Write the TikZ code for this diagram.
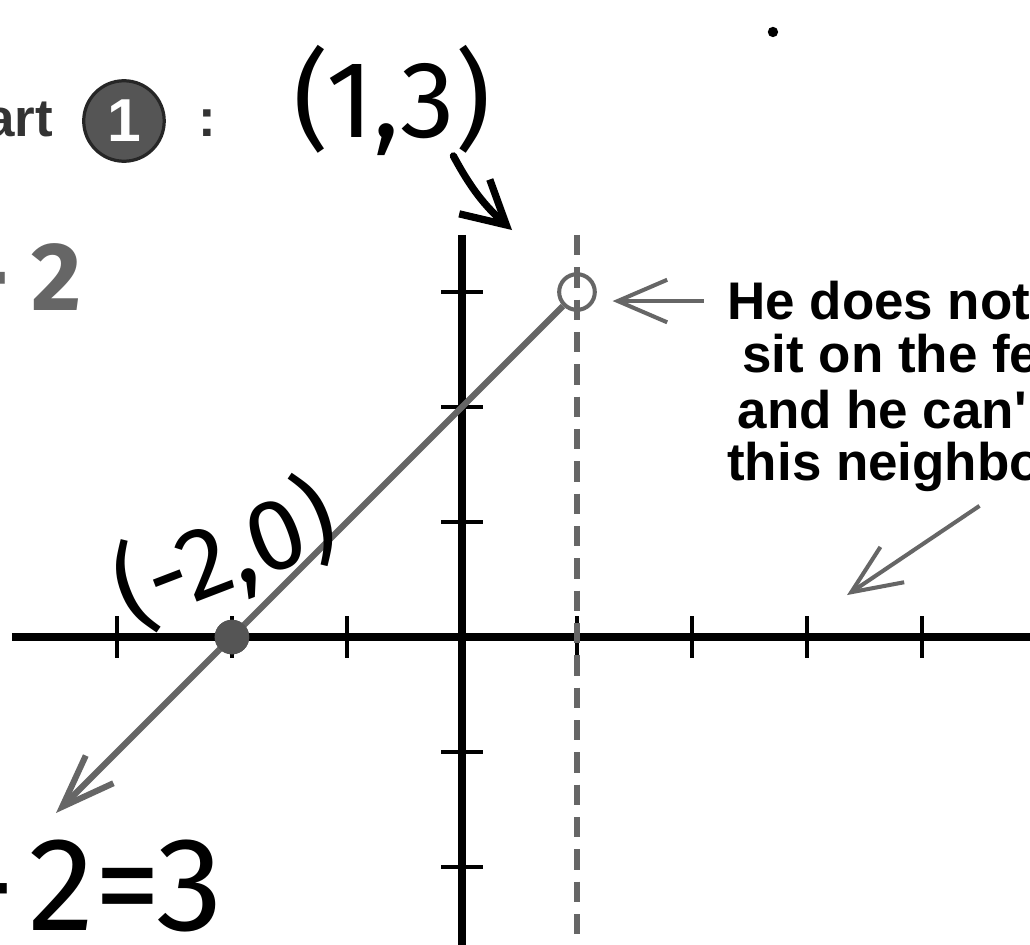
\documentclass[tikz,border=0pt]{standalone}
\usepackage{fontspec}
\setmainfont{Liberation Sans}
\newfontfamily\handfont{Fira Sans}
\usetikzlibrary{arrows.meta}

\definecolor{pengray}{HTML}{666666}
\definecolor{dotgray}{HTML}{555555}
\definecolor{inkgray}{HTML}{333333}

\begin{document}
\begin{tikzpicture}[
    x=1cm, y=1cm,
    every node/.style={inner sep=0pt},
    axis/.style={line width=2.2pt},
    tick/.style={line width=1.1pt},
    guide/.style={
        pengray,
        line width=1.3pt,
        dash pattern=on 5pt off 3pt
    },
    graphline/.style={
        pengray,
        line width=1.5pt,
        -{Straight Barb[length=0.46cm, width=0.34cm]}
    },
    pointer/.style={
        pengray,
        line width=1pt,
        -{Straight Barb[length=0.43cm, width=0.37cm]}
    },
    scribble/.style={
        line width=1.8pt,
        line cap=round,
        line join=round,
        -{Straight Barb[length=0.37cm, width=0.4cm]}
    },
    hole/.style={circle, draw=pengray, line width=1pt, minimum size=0.31cm},
    dot/.style={circle, fill=dotgray, minimum size=0.3cm},
    badge/.style={
        circle,
        fill=dotgray,
        draw=black!85,
        line width=0.8pt,
        minimum size=0.7cm,
        text=white,
        font=\fontsize{15}{15}\selectfont\bfseries
    },
    notetext/.style={font=\fontsize{13.1}{15}\selectfont\bfseries, anchor=base west},
    hand/.style={font=\handfont\fontsize{27}{30}\selectfont}
]

    \useasboundingbox (-4.017,-2.670) rectangle (4.939,5.539);
    \clip (-4.017,-2.670) rectangle (4.939,5.539);

    % Axes and ticks
    \draw[axis] (-3.913,0) -- (4.95,0);
    \draw[axis] (0,3.496) -- (0,-2.7);
    \foreach \x in {-3,-2,-1,1,2,3,4}
        \draw[tick] (\x,-0.18) -- (\x,0.18);
    \foreach \y in {-2,-1,1,2,3}
        \draw[tick] (-0.18,\y) -- (0.18,\y);

    % Line x = 1 and the graph
    \draw[guide] (1,3.496) -- (1,-2.7);
    \node[hole] (hole) at (1,3) {};
    \node[dot] (root) at (-2,0) {};
    \coordinate (tail) at (-3.53,-1.53);
    \draw[graphline] (hole) -- (tail);
    \node[dot] at (root) {};

    % Heading
    \node[anchor=base east, text=inkgray, font=\fontsize{13.1}{15}\selectfont\bfseries] (part) at (-3.55,4.348) {art};
    \node[badge] (badge) at (-2.939,4.487) {1};
    \node[anchor=base, text=inkgray, font=\fontsize{13.1}{15}\selectfont\bfseries] (colon) at (-2.217,4.348) {:};
    \node[anchor=base east, text=pengray, font=\handfont\bfseries\fontsize{24}{26}\selectfont] (rule) at (-3.30,2.843) {+\kern0.22em2};

    % Note on the right
    \foreach \txt/\x/\y [count=\i] in {He does not/2.30/2.757, sit on the fe/2.43/2.296, and he can\textquotesingle/2.39/1.817, this neighbo/2.30/1.365}
        \node[notetext] (note\i) at (\x,\y) {\txt};
    \coordinate (nbhd) at (3.348,0.365);
    \draw[pointer] ([xshift=-0.2cm]note1.west) -- ++(-0.79,0);
    \draw[pointer] ([xshift=2.2cm,yshift=-0.12cm]note4.south west) -- (nbhd);

    % Pen notes
    \node[hand] (pt13) at (-0.61,4.67) {(1,3)};
    \draw[scribble] ([xshift=-0.33cm]pt13.south east) to[bend right=10] ([shift={(-0.565,0.539)}]hole.center);
    \node[hand, font=\handfont\fontsize{25}{28}\selectfont, rotate=21] (pt20) at (-2.06,0.72) {(-2,0)};
    \node[hand, font=\handfont\fontsize{33}{36}\selectfont, anchor=base west] (eqn) at (-4.36,-2.548) {-\kern0.1em2=3};
    \fill (2.704,5.261) circle (0.045);

\end{tikzpicture}
\end{document}
